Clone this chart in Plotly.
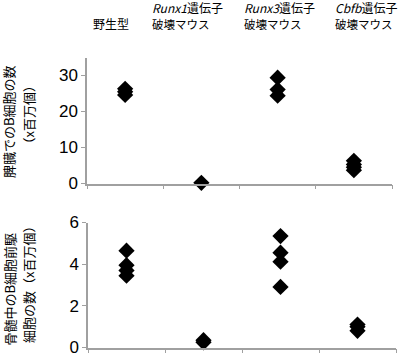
import plotly.graph_objects as go

categories = ["野生型", "Runx1", "Runx3", "Cbfb"]
cat_pos = [1, 2, 3, 4]

spleen_wt = [24.6, 25.5, 26.3]
spleen_runx1 = [0.2]
spleen_runx3 = [29.4, 26.1, 24.4]
spleen_cbfb = [6.3, 5.3, 4.5, 3.7]

bm_wt = [4.65, 3.95, 3.7, 3.45]
bm_runx1 = [0.35, 0.25]
bm_runx3 = [5.35, 4.55, 4.12, 2.91]
bm_cbfb = [1.1, 1.0, 0.8]

top_ticks = [0, 10, 20, 30]
bottom_ticks = [0, 2, 4, 6]

FONT = "Liberation Sans, Arial, Noto Sans CJK JP, sans-serif"
JP = "Noto Sans CJK JP, sans-serif"

W, H = 400, 359

fig = go.Figure()
marker = dict(symbol="diamond", size=12.5, color="black")

for i, vals in enumerate([spleen_wt, spleen_runx1, spleen_runx3, spleen_cbfb]):
    fig.add_trace(go.Scatter(x=[cat_pos[i]] * len(vals), y=vals, mode="markers",
                             marker=marker, xaxis="x", yaxis="y", showlegend=False,
                             cliponaxis=False, hoverinfo="skip"))
for i, vals in enumerate([bm_wt, bm_runx1, bm_runx3, bm_cbfb]):
    fig.add_trace(go.Scatter(x=[cat_pos[i]] * len(vals), y=vals, mode="markers",
                             marker=marker, xaxis="x2", yaxis="y2", showlegend=False,
                             cliponaxis=False, hoverinfo="skip"))

axcol = "#a0a0a0"
xcommon = dict(range=[0.5, 4.5], tickvals=[0.5, 1.5, 2.5, 3.5, 4.5], showticklabels=False,
               ticks="outside", ticklen=4, tickcolor=axcol, showgrid=False, zeroline=False,
               showline=True, linecolor=axcol, linewidth=1.5, automargin=False)
ycommon = dict(showgrid=False, zeroline=False, showline=True, linecolor=axcol, linewidth=1.5,
               ticks="outside", ticklen=4, tickcolor=axcol, automargin=False,
               tickfont=dict(family=FONT, size=17, color="black"))


def px_x(x):
    return x / W


def px_y(y):
    return 1 - y / H


fig.update_layout(
    width=W, height=H, autosize=False,
    margin=dict(l=0, r=0, t=0, b=0, pad=0, autoexpand=False),
    paper_bgcolor="white", plot_bgcolor="white",
    xaxis=dict(domain=[px_x(87), px_x(392)], anchor="y", **xcommon),
    yaxis=dict(domain=[px_y(183.5), px_y(57.5)], anchor="x", range=[0, 35], tickvals=top_ticks, **ycommon),
    xaxis2=dict(domain=[px_x(88), px_x(396)], anchor="y2", **xcommon),
    yaxis2=dict(domain=[px_y(347.5), px_y(222.5)], anchor="x2", range=[0, 6], tickvals=bottom_ticks, **ycommon),
)


def ann(x, y, text, font, xanchor="center", angle=0, align="center"):
    fig.add_annotation(x=px_x(x), y=px_y(y), xref="paper", yref="paper", text=text,
                       showarrow=False, font=font, xanchor=xanchor, yanchor="middle",
                       textangle=angle, borderpad=0, align=align)


hdr1 = dict(family=JP, size=12, color="black")
hdr2 = dict(family=JP, size=11.5, color="black")
ann(111, 24, "野生型", dict(family=JP, size=12, color="black"))
for xc, name in [(151, "Runx1"), (243, "Runx3"), (334, "Cbfb")]:
    ann(xc, 7.5, f"<i>{name}</i>遺伝子", hdr1, xanchor="left")
    ann(xc, 24.5, "破壊マウス", hdr2, xanchor="left")

ttl_font = dict(family=JP, size=13, color="black")
ann(9, 122, "脾臓でのB細胞の数", ttl_font, angle=-90)
ann(27.5, 115, "（x百万個）", ttl_font, angle=-90)
ann(8.5, 289, "骨髄中のB細胞前駆", ttl_font, angle=-90)
ann(28, 282, "細胞の数（x百万個）", ttl_font, angle=-90)

fig.write_html("out.html", config={"displayModeBar": False},
               post_script="document.body.style.margin='0';")
